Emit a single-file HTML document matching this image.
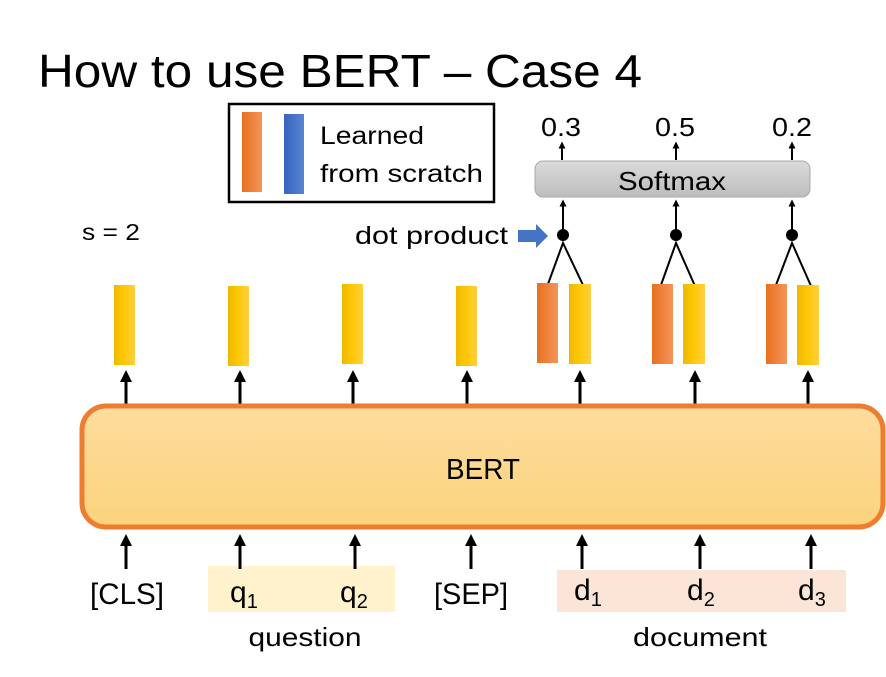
<!DOCTYPE html>
<html><head><meta charset="utf-8"><style>
html,body{margin:0;padding:0;background:#fff;}
svg{display:block;font-family:"Liberation Sans",sans-serif;}
</style></head><body>
<svg width="886" height="677" viewBox="0 0 886 677" xmlns="http://www.w3.org/2000/svg">
<defs>
<linearGradient id="yel" x1="0" x2="1" y1="0" y2="0"><stop offset="0" stop-color="#EDB800"/><stop offset="0.5" stop-color="#FFC808"/><stop offset="1" stop-color="#FFCF40"/></linearGradient>
<linearGradient id="org" x1="0" x2="1" y1="0" y2="0"><stop offset="0" stop-color="#E8701F"/><stop offset="1" stop-color="#F4955A"/></linearGradient>
<linearGradient id="blu" x1="0" x2="1" y1="0" y2="0"><stop offset="0" stop-color="#3563C0"/><stop offset="1" stop-color="#5A85D0"/></linearGradient>
<linearGradient id="bert" x1="0" x2="0" y1="0" y2="1"><stop offset="0" stop-color="#FDDC9E"/><stop offset="1" stop-color="#FCD37C"/></linearGradient>
<linearGradient id="gray" x1="0" x2="0" y1="0" y2="1"><stop offset="0" stop-color="#DADADA"/><stop offset="1" stop-color="#BDBDBD"/></linearGradient>
<marker id="ah" markerWidth="12" markerHeight="12" refX="6" refY="6" orient="auto" markerUnits="userSpaceOnUse"><path d="M0,0 L12,6 L0,12 z" fill="#000"/></marker>
<marker id="as" markerWidth="7" markerHeight="7" refX="3.5" refY="3.5" orient="auto" markerUnits="userSpaceOnUse"><path d="M0,0 L7,3.5 L0,7 z" fill="#000"/></marker>
</defs>

<text x="38" y="87" font-size="46" textLength="604" lengthAdjust="spacingAndGlyphs">How to use BERT – Case 4</text>

<rect x="229" y="104" width="265" height="98" fill="#fff" stroke="#000" stroke-width="2.5"/>
<rect x="242" y="112" width="20" height="80" fill="url(#org)"/>
<rect x="284" y="114" width="20" height="80" fill="url(#blu)"/>
<text x="320" y="144" font-size="25" textLength="104" lengthAdjust="spacingAndGlyphs">Learned</text>
<text x="320" y="182" font-size="25" textLength="163" lengthAdjust="spacingAndGlyphs">from scratch</text>

<text x="82" y="240" font-size="23" textLength="58" lengthAdjust="spacingAndGlyphs">s = 2</text>
<text x="355" y="244" font-size="25" textLength="153" lengthAdjust="spacingAndGlyphs">dot product</text>
<path d="M518,230 L536,230 L536,224 L548,236 L536,248 L536,242 L518,242 z" fill="#4472C4"/>

<rect x="535" y="161" width="275" height="36" rx="8" fill="url(#gray)" stroke="#A8A8A8" stroke-width="1"/>
<text x="672" y="190" font-size="26" text-anchor="middle" textLength="108" lengthAdjust="spacingAndGlyphs">Softmax</text>
<g font-size="26" text-anchor="middle">
<text x="561" y="136" textLength="40" lengthAdjust="spacingAndGlyphs">0.3</text><text x="675" y="136" textLength="40" lengthAdjust="spacingAndGlyphs">0.5</text><text x="792" y="136" textLength="40" lengthAdjust="spacingAndGlyphs">0.2</text>
</g>
<g stroke="#000" stroke-width="2">
<line x1="562" y1="160" x2="562" y2="145" marker-end="url(#as)"/>
<line x1="676" y1="160" x2="676" y2="145" marker-end="url(#as)"/>
<line x1="792" y1="160" x2="792" y2="145" marker-end="url(#as)"/>
<line x1="563" y1="235" x2="563" y2="203" marker-end="url(#as)"/>
<line x1="676" y1="235" x2="676" y2="203" marker-end="url(#as)"/>
<line x1="792" y1="235" x2="792" y2="203" marker-end="url(#as)"/>
<polyline points="548,284 563,243 583,285" fill="none"/>
<polyline points="661,285 676,243 695,286" fill="none"/>
<polyline points="776,285 792,243 811,286" fill="none"/>
</g>
<circle cx="563" cy="235" r="6"/><circle cx="676" cy="235" r="6"/><circle cx="792" cy="235" r="6"/>

<g>
<rect x="114" y="285" width="21" height="80" fill="url(#yel)"/>
<rect x="228" y="286" width="21" height="80" fill="url(#yel)"/>
<rect x="342" y="284" width="21" height="80" fill="url(#yel)"/>
<rect x="456" y="286" width="21" height="80" fill="url(#yel)"/>
<rect x="537" y="283" width="21" height="80" fill="url(#org)"/>
<rect x="569" y="284" width="22" height="80" fill="url(#yel)"/>
<rect x="652" y="284" width="21" height="80" fill="url(#org)"/>
<rect x="683" y="284" width="22" height="80" fill="url(#yel)"/>
<rect x="766" y="284" width="21" height="80" fill="url(#org)"/>
<rect x="797" y="285" width="22" height="80" fill="url(#yel)"/>
</g>

<g stroke="#000" stroke-width="3">
<line x1="126" y1="405" x2="126" y2="376" marker-end="url(#ah)"/>
<line x1="240" y1="405" x2="240" y2="376" marker-end="url(#ah)"/>
<line x1="353" y1="405" x2="353" y2="376" marker-end="url(#ah)"/>
<line x1="467" y1="405" x2="467" y2="376" marker-end="url(#ah)"/>
<line x1="580" y1="405" x2="580" y2="376" marker-end="url(#ah)"/>
<line x1="695" y1="405" x2="695" y2="376" marker-end="url(#ah)"/>
<line x1="808" y1="405" x2="808" y2="376" marker-end="url(#ah)"/>
</g>

<rect x="82" y="406" width="801" height="121" rx="24" fill="url(#bert)" stroke="#ED7D31" stroke-width="5"/>
<text x="483" y="479" font-size="29" text-anchor="middle" textLength="74" lengthAdjust="spacingAndGlyphs">BERT</text>

<rect x="208" y="566" width="187" height="46" fill="#FFF2CC"/>
<rect x="557" y="570" width="289" height="42" fill="#FBE5D6"/>

<g stroke="#000" stroke-width="3">
<line x1="126" y1="569" x2="126" y2="540" marker-end="url(#ah)"/>
<line x1="240" y1="569" x2="240" y2="540" marker-end="url(#ah)"/>
<line x1="355" y1="569" x2="355" y2="540" marker-end="url(#ah)"/>
<line x1="471" y1="569" x2="471" y2="540" marker-end="url(#ah)"/>
<line x1="582" y1="569" x2="582" y2="540" marker-end="url(#ah)"/>
<line x1="700" y1="569" x2="700" y2="540" marker-end="url(#ah)"/>
<line x1="811" y1="569" x2="811" y2="540" marker-end="url(#ah)"/>
</g>

<g font-size="30">
<text x="127" y="604" text-anchor="middle" textLength="74" lengthAdjust="spacingAndGlyphs">[CLS]</text>
<text x="471" y="604" text-anchor="middle" textLength="74" lengthAdjust="spacingAndGlyphs">[SEP]</text>
<text x="230" y="602">q<tspan font-size="20" dy="6">1</tspan></text>
<text x="340" y="602">q<tspan font-size="20" dy="6">2</tspan></text>
<text x="574" y="600">d<tspan font-size="20" dy="6">1</tspan></text>
<text x="687" y="600">d<tspan font-size="20" dy="6">2</tspan></text>
<text x="798" y="600">d<tspan font-size="20" dy="6">3</tspan></text>
</g>
<text x="305" y="646" font-size="26" text-anchor="middle" textLength="113" lengthAdjust="spacingAndGlyphs">question</text>
<text x="700" y="646" font-size="26" text-anchor="middle" textLength="134" lengthAdjust="spacingAndGlyphs">document</text>
</svg>
</body></html>
